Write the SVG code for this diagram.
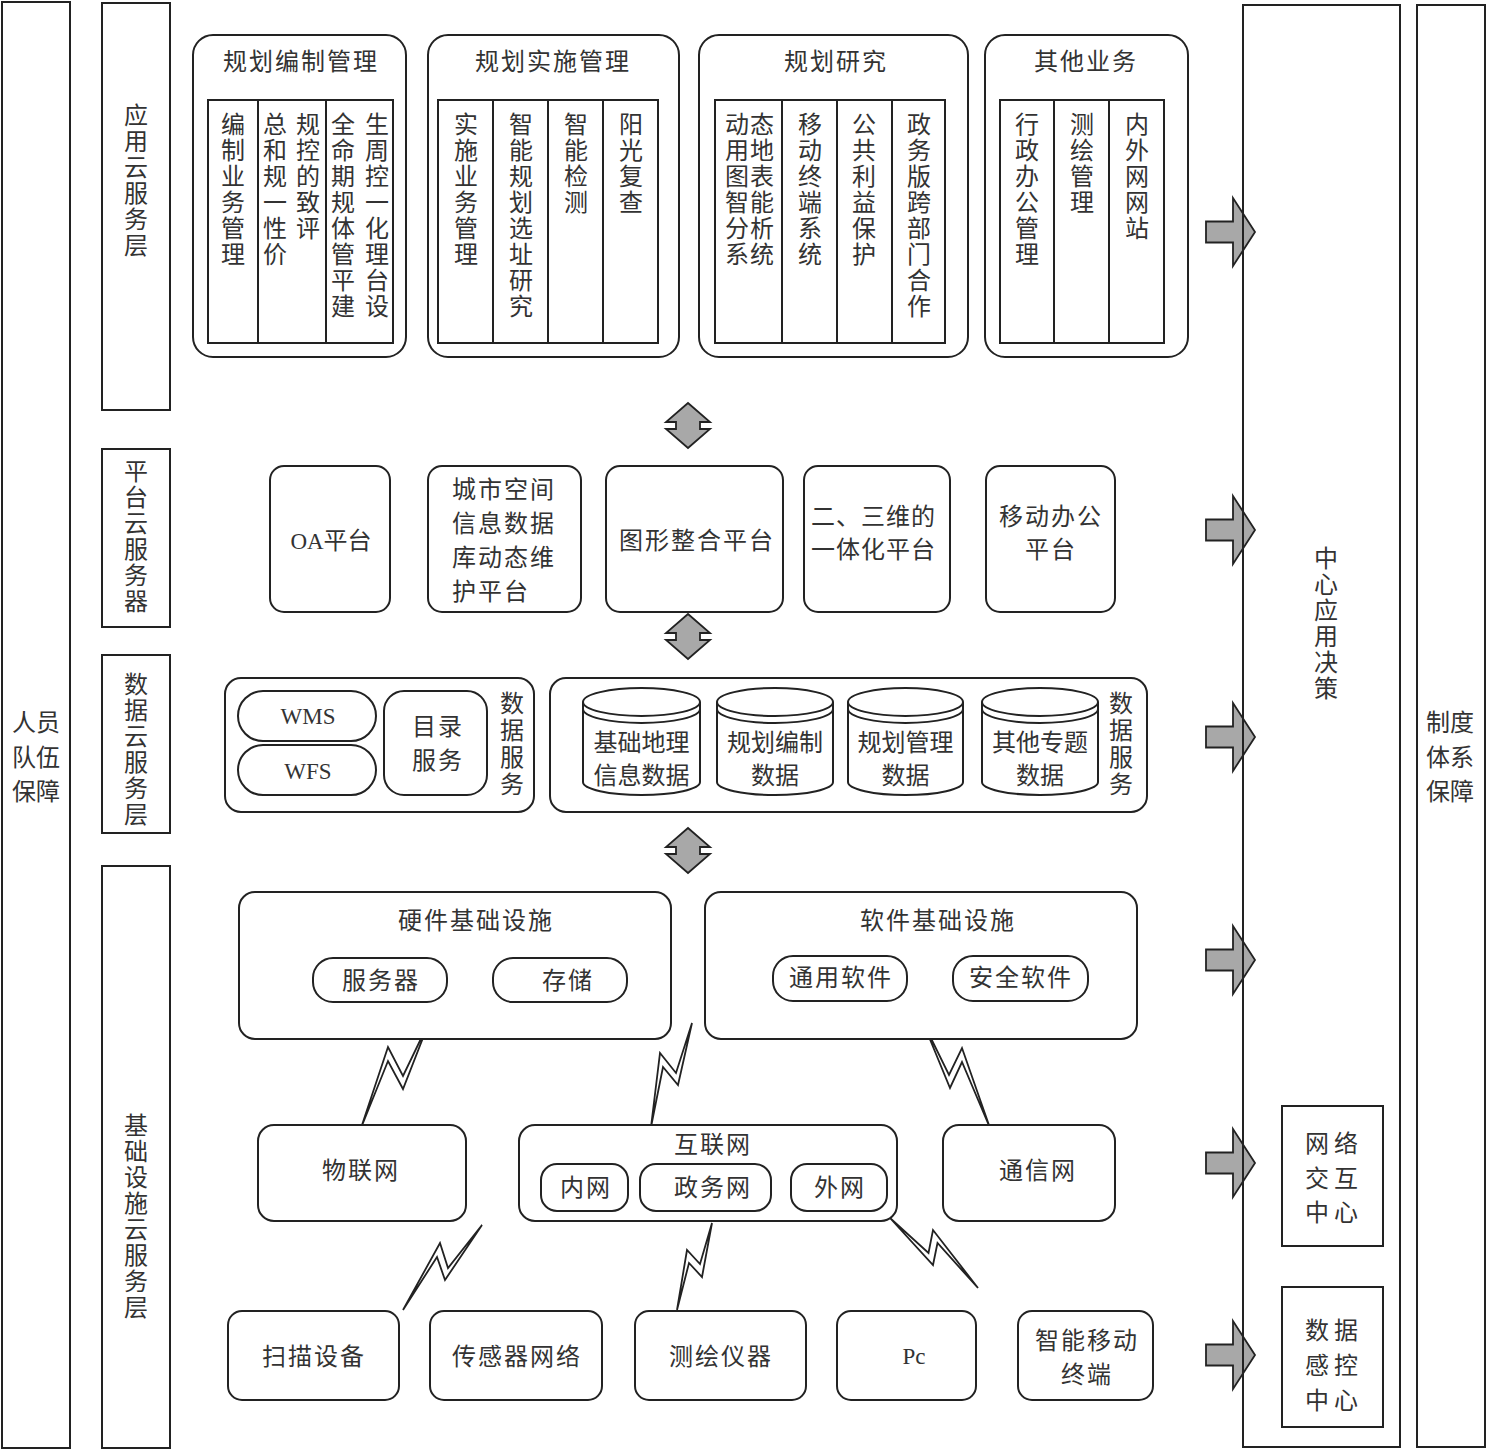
<svg xmlns="http://www.w3.org/2000/svg" xmlns:xlink="http://www.w3.org/1999/xlink" width="1488" height="1451" viewBox="0 0 1488 1451">
<style>
  .box { fill: #fff; stroke: #222; stroke-width: 2; }
  .nofill { fill: none; stroke: #222; stroke-width: 2; }
  .t { font-family: "Noto Sans CJK SC", "Liberation Sans", sans-serif; font-size: 24px; fill: #333; }
  .c { text-anchor: middle; }
  .ls { letter-spacing: 2px; }
  .v { writing-mode: vertical-rl; text-orientation: upright; letter-spacing: 2px; }
  .v3 { letter-spacing: 3px; }
  .lat { font-family: "Liberation Serif", "Noto Sans CJK SC", serif; font-size: 23px; }
  .garrow { fill: #a8a8a8; stroke: #222; stroke-width: 1.8; stroke-linejoin: miter; }
  .bolt { fill: #fff; stroke: #222; stroke-width: 1.8; stroke-linejoin: miter; }
</style>
<defs>
  <polygon id="vArrow" points="0,0 22,19 12,19 12,26 22,26 0,45 -22,26 -12,26 -12,19 -22,19"/>
  <polygon id="hArrow" points="0,-10.5 27,-10.5 27,-34 49,0 27,34 27,10.5 0,10.5"/>
</defs>
<rect width="1488" height="1451" fill="#fff"/>

<!-- connectors -->
<g id="connectors">
  <use xlink:href="#vArrow" href="#vArrow" class="garrow" transform="translate(688,403)"/>
  <use xlink:href="#vArrow" href="#vArrow" class="garrow" transform="translate(688,614)"/>
  <use xlink:href="#vArrow" href="#vArrow" class="garrow" transform="translate(688,828)"/>
  <use xlink:href="#hArrow" href="#hArrow" class="garrow" transform="translate(1206,232)"/>
  <use xlink:href="#hArrow" href="#hArrow" class="garrow" transform="translate(1206,530)"/>
  <use xlink:href="#hArrow" href="#hArrow" class="garrow" transform="translate(1206,737)"/>
  <use xlink:href="#hArrow" href="#hArrow" class="garrow" transform="translate(1206,960)"/>
  <use xlink:href="#hArrow" href="#hArrow" class="garrow" transform="translate(1206,1163)"/>
  <use xlink:href="#hArrow" href="#hArrow" class="garrow" transform="translate(1206,1355)"/>
  <polygon class="bolt" points="430,1020 403,1089 388,1061 361,1128 388,1047 403,1076"/>
  <polygon class="bolt" points="692,1023 678,1085 663,1067 651,1127 660,1053 676,1073"/>
  <polygon class="bolt" points="922,1020 950,1088 962,1062 990,1128 962,1048 949,1075"/>
  <polygon class="bolt" points="482,1225 445,1280 437,1257 403,1310 440,1243 448,1268"/>
  <polygon class="bolt" points="712,1223 702,1277 689,1263 677,1310 687,1250 700,1264"/>
  <polygon class="bolt" points="890,1218 933,1265 937.5,1243 978,1288 933,1230 928.5,1253"/>
</g>

<!-- side columns -->
<g id="staff">
  <rect class="nofill" x="2" y="2" width="68" height="1446"/>
  <text class="t c"><tspan x="36" y="731">人员</tspan><tspan x="36" y="766">队伍</tspan><tspan x="36" y="800">保障</tspan></text>
</g>
<g id="center-decision">
  <rect class="nofill" x="1243" y="5" width="157" height="1442"/>
  <text class="t v" x="1326" y="546">中心应用决策</text>
</g>
<g id="system">
  <rect class="nofill" x="1417" y="5" width="68" height="1442"/>
  <text class="t c"><tspan x="1450" y="731">制度</tspan><tspan x="1450" y="766">体系</tspan><tspan x="1450" y="800">保障</tspan></text>
</g>
<g id="net-center">
  <rect class="box" x="1282" y="1106" width="101" height="140"/>
  <text class="t c" style="letter-spacing:5px"><tspan x="1334" y="1152">网络</tspan><tspan x="1334" y="1187">交互</tspan><tspan x="1334" y="1221">中心</tspan></text>
</g>
<g id="data-center">
  <rect class="box" x="1282" y="1287" width="101" height="140"/>
  <text class="t c" style="letter-spacing:5px"><tspan x="1334" y="1339">数据</tspan><tspan x="1334" y="1374">感控</tspan><tspan x="1334" y="1409">中心</tspan></text>
</g>

<!-- layer labels -->
<g id="layer-app">
  <rect class="nofill" x="102" y="3" width="68" height="407"/>
  <text class="t v" x="136" y="103">应用云服务层</text>
</g>
<g id="layer-platform">
  <rect class="nofill" x="102" y="449" width="68" height="178"/>
  <text class="t v" x="136" y="459">平台云服务器</text>
</g>
<g id="layer-data">
  <rect class="nofill" x="102" y="655" width="68" height="178"/>
  <text class="t v" x="136" y="672">数据云服务层</text>
</g>
<g id="layer-infra">
  <rect class="nofill" x="102" y="866" width="68" height="582"/>
  <text class="t v" x="136" y="1113">基础设施云服务层</text>
</g>

<!-- application layer -->
<g id="plan-compile">
  <rect class="box" x="193" y="35" width="213" height="322" rx="20"/>
  <text class="t c ls" x="301" y="70">规划编制管理</text>
  <rect class="box" x="208" y="100" width="185" height="243"/>
  <line class="nofill" x1="258" y1="100" x2="258" y2="343"/>
  <line class="nofill" x1="326" y1="100" x2="326" y2="343"/>
  <text class="t v" x="233" y="112">编制业务管理</text>
  <text class="t v" x="275" y="112">总和规一性价</text>
  <text class="t v" x="308" y="112">规控的致评</text>
  <text class="t v" x="343" y="112">全命期规体管平建</text>
  <text class="t v" x="377" y="112">生周控一化理台设</text>
</g>
<g id="plan-implement">
  <rect class="box" x="428" y="35" width="251" height="322" rx="20"/>
  <text class="t c ls" x="553" y="70">规划实施管理</text>
  <rect class="box" x="438" y="100" width="220" height="243"/>
  <line class="nofill" x1="493" y1="100" x2="493" y2="343"/>
  <line class="nofill" x1="548" y1="100" x2="548" y2="343"/>
  <line class="nofill" x1="603" y1="100" x2="603" y2="343"/>
  <text class="t v" x="466" y="112">实施业务管理</text>
  <text class="t v" x="521" y="112">智能规划选址研究</text>
  <text class="t v" x="576" y="112">智能检测</text>
  <text class="t v" x="631" y="112">阳光复查</text>
</g>
<g id="plan-research">
  <rect class="box" x="699" y="35" width="269" height="322" rx="20"/>
  <text class="t c ls" x="836" y="70">规划研究</text>
  <rect class="box" x="715" y="100" width="230" height="243"/>
  <line class="nofill" x1="782" y1="100" x2="782" y2="343"/>
  <line class="nofill" x1="837" y1="100" x2="837" y2="343"/>
  <line class="nofill" x1="892" y1="100" x2="892" y2="343"/>
  <text class="t v" x="737" y="112">动用图智分系</text>
  <text class="t v" x="762" y="112">态地表能析统</text>
  <text class="t v" x="810" y="112">移动终端系统</text>
  <text class="t v" x="864" y="112">公共利益保护</text>
  <text class="t v" x="919" y="112">政务版跨部门合作</text>
</g>
<g id="other-business">
  <rect class="box" x="985" y="35" width="203" height="322" rx="20"/>
  <text class="t c ls" x="1086" y="70">其他业务</text>
  <rect class="box" x="1000" y="100" width="164" height="243"/>
  <line class="nofill" x1="1054" y1="100" x2="1054" y2="343"/>
  <line class="nofill" x1="1109" y1="100" x2="1109" y2="343"/>
  <text class="t v" x="1027" y="112">行政办公管理</text>
  <text class="t v" x="1082" y="112">测绘管理</text>
  <text class="t v" x="1137" y="112">内外网网站</text>
</g>

<!-- platform layer -->
<g id="oa">
  <rect class="box" x="270" y="466" width="120" height="146" rx="14"/>
  <text class="t c" x="331" y="549"><tspan class="lat">OA</tspan>平台</text>
</g>
<g id="city-db">
  <rect class="box" x="428" y="466" width="153" height="146" rx="14"/>
  <text class="t ls"><tspan x="452" y="498">城市空间</tspan><tspan x="452" y="532">信息数据</tspan><tspan x="452" y="566">库动态维</tspan><tspan x="452" y="600">护平台</tspan></text>
</g>
<g id="graphics">
  <rect class="box" x="606" y="466" width="177" height="146" rx="14"/>
  <text class="t c ls" x="697" y="549">图形整合平台</text>
</g>
<g id="two-three-d">
  <rect class="box" x="804" y="466" width="146" height="146" rx="14"/>
  <text class="t" style="letter-spacing:1px"><tspan x="811" y="525">二、三维的</tspan><tspan x="811" y="558">一体化平台</tspan></text>
</g>
<g id="mobile-office">
  <rect class="box" x="986" y="466" width="129" height="146" rx="14"/>
  <text class="t c ls"><tspan x="1051" y="525">移动办公</tspan><tspan x="1051" y="558">平台</tspan></text>
</g>

<!-- data layer -->
<g id="data-services-left">
  <rect class="box" x="225" y="678" width="309" height="134" rx="16"/>
  <rect class="box" x="238" y="691" width="138" height="50" rx="25"/>
  <text class="t c lat" x="308" y="724">WMS</text>
  <rect class="box" x="238" y="745" width="138" height="50" rx="25"/>
  <text class="t c lat" x="308" y="779">WFS</text>
  <rect class="box" x="384" y="691" width="103" height="104" rx="20"/>
  <text class="t c ls"><tspan x="438" y="735">目录</tspan><tspan x="438" y="769">服务</tspan></text>
  <text class="t v v3" x="512" y="691">数据服务</text>
</g>
<g id="data-services-right">
  <rect class="box" x="550" y="678" width="597" height="134" rx="16"/>
  <text class="t v v3" x="1121" y="691">数据服务</text>
</g>
<g id="db-basic">
  <path class="box" d="M583 702 L583 782 A58.5 13 0 0 0 700 782 L700 702"/>
  <ellipse class="box" cx="641.5" cy="702" rx="58.5" ry="14"/>
  <path class="nofill" d="M583 709 A58.5 14 0 0 0 700 709"/>
  <text class="t c"><tspan x="641.5" y="751">基础地理</tspan><tspan x="641.5" y="784">信息数据</tspan></text>
</g>
<g id="db-compile">
  <path class="box" d="M717 702 L717 782 A58 13 0 0 0 833 782 L833 702"/>
  <ellipse class="box" cx="775" cy="702" rx="58" ry="14"/>
  <path class="nofill" d="M717 709 A58 14 0 0 0 833 709"/>
  <text class="t c"><tspan x="775" y="751">规划编制</tspan><tspan x="775" y="784">数据</tspan></text>
</g>
<g id="db-manage">
  <path class="box" d="M848 702 L848 782 A57.5 13 0 0 0 963 782 L963 702"/>
  <ellipse class="box" cx="905.5" cy="702" rx="57.5" ry="14"/>
  <path class="nofill" d="M848 709 A57.5 14 0 0 0 963 709"/>
  <text class="t c"><tspan x="905.5" y="751">规划管理</tspan><tspan x="905.5" y="784">数据</tspan></text>
</g>
<g id="db-other">
  <path class="box" d="M982 702 L982 782 A58 13 0 0 0 1098 782 L1098 702"/>
  <ellipse class="box" cx="1040" cy="702" rx="58" ry="14"/>
  <path class="nofill" d="M982 709 A58 14 0 0 0 1098 709"/>
  <text class="t c"><tspan x="1040" y="751">其他专题</tspan><tspan x="1040" y="784">数据</tspan></text>
</g>

<!-- infrastructure layer -->
<g id="hardware">
  <rect class="box" x="239" y="892" width="432" height="147" rx="16"/>
  <text class="t c ls" x="476" y="929">硬件基础设施</text>
  <rect class="box" x="313" y="958" width="134" height="44" rx="20"/>
  <text class="t c ls" x="381" y="989">服务器</text>
  <rect class="box" x="493" y="958" width="134" height="44" rx="20"/>
  <text class="t c ls" x="568" y="989">存储</text>
</g>
<g id="software">
  <rect class="box" x="705" y="892" width="432" height="147" rx="16"/>
  <text class="t c ls" x="938" y="929">软件基础设施</text>
  <rect class="box" x="773" y="956" width="134" height="45" rx="20"/>
  <text class="t c ls" x="841" y="986">通用软件</text>
  <rect class="box" x="953" y="956" width="135" height="45" rx="20"/>
  <text class="t c ls" x="1021" y="986">安全软件</text>
</g>
<g id="iot">
  <rect class="box" x="258" y="1125" width="208" height="96" rx="16"/>
  <text class="t c ls" x="361" y="1179">物联网</text>
</g>
<g id="internet">
  <rect class="box" x="519" y="1125" width="378" height="96" rx="16"/>
  <text class="t c ls" x="713" y="1153">互联网</text>
  <rect class="box" x="541" y="1164" width="87" height="47" rx="16"/>
  <text class="t c ls" x="586" y="1196">内网</text>
  <rect class="box" x="640" y="1164" width="131" height="47" rx="16"/>
  <text class="t c ls" x="713" y="1196">政务网</text>
  <rect class="box" x="791" y="1164" width="96" height="47" rx="16"/>
  <text class="t c ls" x="840" y="1196">外网</text>
</g>
<g id="telecom">
  <rect class="box" x="943" y="1125" width="172" height="96" rx="16"/>
  <text class="t c ls" x="1038" y="1179">通信网</text>
</g>
<g id="scanner">
  <rect class="box" x="228" y="1311" width="171" height="89" rx="14"/>
  <text class="t c ls" x="314" y="1365">扫描设备</text>
</g>
<g id="sensor">
  <rect class="box" x="430" y="1311" width="172" height="89" rx="14"/>
  <text class="t c ls" x="517" y="1365">传感器网络</text>
</g>
<g id="survey">
  <rect class="box" x="635" y="1311" width="171" height="89" rx="14"/>
  <text class="t c ls" x="721" y="1365">测绘仪器</text>
</g>
<g id="pc">
  <rect class="box" x="837" y="1311" width="139" height="89" rx="14"/>
  <text class="t c lat" x="914" y="1364">Pc</text>
</g>
<g id="mobile-terminal">
  <rect class="box" x="1018" y="1311" width="135" height="89" rx="14"/>
  <text class="t c ls"><tspan x="1087" y="1349">智能移动</tspan><tspan x="1087" y="1383">终端</tspan></text>
</g>
</svg>
